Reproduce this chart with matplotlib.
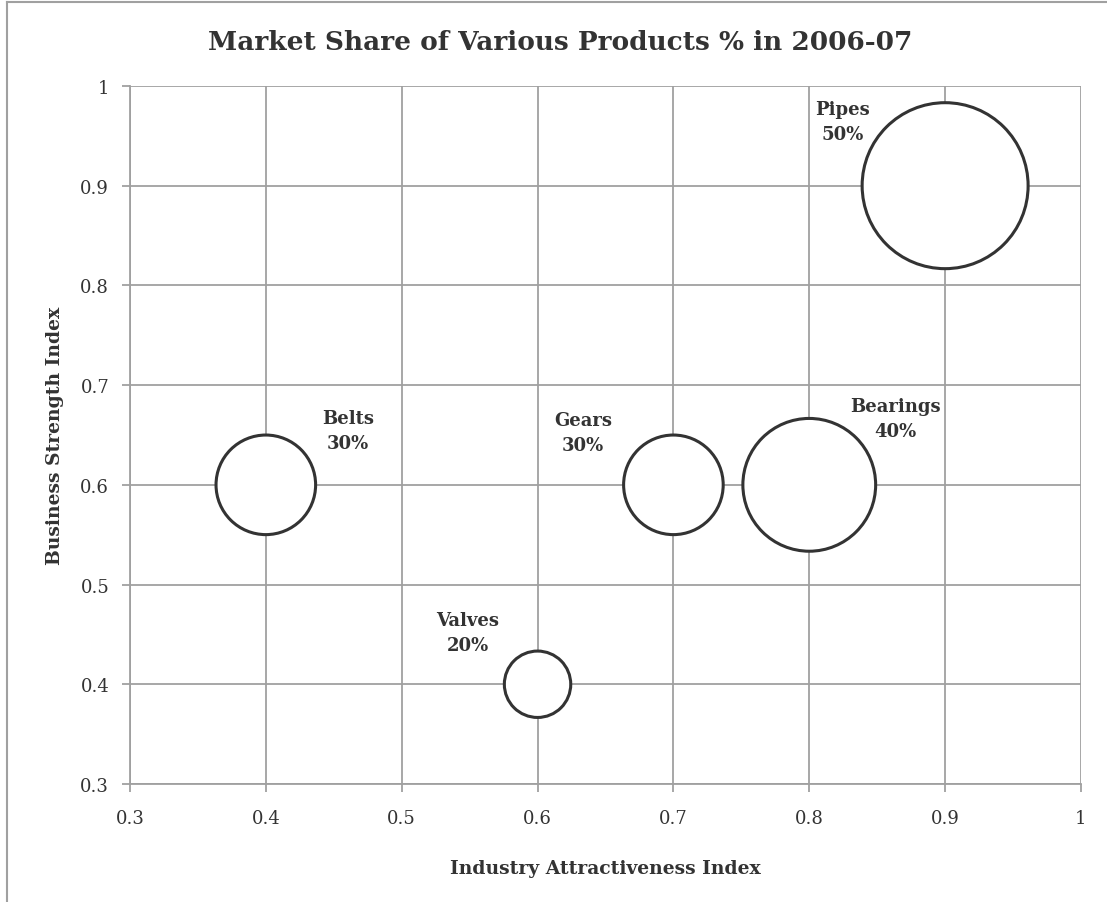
import matplotlib.pyplot as plt
from matplotlib.lines import Line2D

products = ['Pipes', 'Belts', 'Gears', 'Bearings', 'Valves']
attractiveness = [0.9, 0.4, 0.7, 0.8, 0.6]
strength = [0.9, 0.6, 0.6, 0.6, 0.4]
share = [50, 30, 30, 40, 20]
# label offsets (points) from each bubble centre
offsets = [(-74, 46), (59, 39), (-65, 38), (62, 48), (-50, 37)]

plt.rcParams['font.family'] = ['DejaVu Serif']
txt = '#333333'
grid = '#a0a0a0'

fig = plt.figure(figsize=(11.07, 9.03), dpi=100)
ax = fig.add_axes([0.1174, 0.1307, 0.8591, 0.773])

# bubble width proportional to share
sizes = [(2.39 * v) ** 2 for v in share]
ax.scatter(attractiveness, strength, s=sizes, facecolor='white',
           edgecolor='#333333', linewidth=2.2, zorder=3)

for name, x, y, v, off in zip(products, attractiveness, strength, share, offsets):
  ax.annotate('{}\n{}%'.format(name, v), (x, y), xytext=off,
              textcoords='offset points', ha='center', va='center',
              fontsize=13, fontweight='bold', color=txt, linespacing=1.5)

ax.set_xlim(0.3, 1)
ax.set_ylim(0.3, 1)
ax.set_xticks([0.3, 0.4, 0.5, 0.6, 0.7, 0.8, 0.9, 1])
ax.set_yticks([0.3, 0.4, 0.5, 0.6, 0.7, 0.8, 0.9, 1])
ax.set_xticklabels(['0.3', '0.4', '0.5', '0.6', '0.7', '0.8', '0.9', '1'])
ax.set_yticklabels(['0.3', '0.4', '0.5', '0.6', '0.7', '0.8', '0.9', '1'])
ax.grid(True, color=grid, linewidth=1.3, zorder=0)
ax.set_axisbelow(True)
for s in ['top', 'right']:
  ax.spines[s].set_visible(False)
for s in ['left', 'bottom']:
  ax.spines[s].set_color(grid)
  ax.spines[s].set_linewidth(1.3)
ax.tick_params(length=6, width=1.3, color=grid, labelsize=13,
               labelcolor=txt)
ax.tick_params(axis='y', pad=9)
ax.tick_params(axis='x', pad=12)

ax.set_xlabel('Industry Attractiveness Index', fontsize=13.5, fontweight='bold',
              color=txt, labelpad=23)
ax.set_ylabel('Business Strength Index', fontsize=13.5, fontweight='bold',
              color=txt, labelpad=12)
fig.text(0.506, 0.953, 'Market Share of Various Products % in 2006-07',
         ha='center', va='center', fontsize=19, fontweight='bold', color=txt)

# outer chart border (left and top visible)
fig.add_artist(Line2D([0.0065, 0.0065], [0, 0.9965], color='#a0a0a0', lw=1.5))
fig.add_artist(Line2D([0.0065, 1], [0.9965, 0.9965], color='#a0a0a0', lw=1.5))

fig.savefig('out.png', dpi=100)
